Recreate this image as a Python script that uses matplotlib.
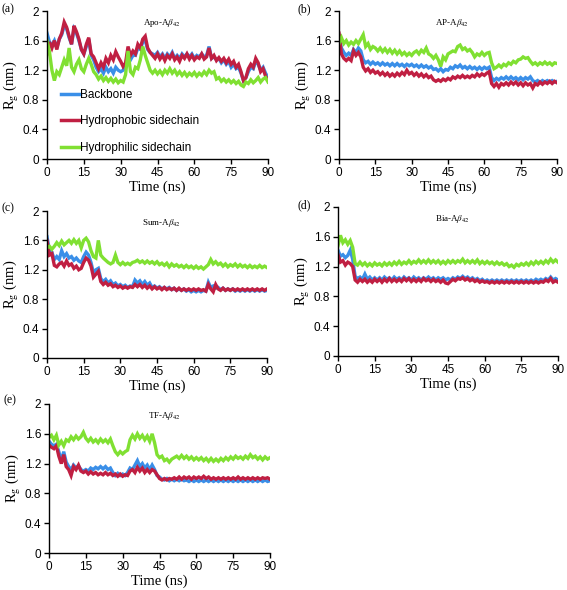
import matplotlib
matplotlib.use("Agg")
import matplotlib.pyplot as plt
import numpy as np

plt.rcParams['mathtext.fontset'] = 'stix'

time_ns = list(range(0, 91))

# Panel (a) Apo-Abeta42
a_backbone = [1.70,1.58,1.54,1.60,1.50,1.62,1.68,1.80,1.76,1.64,1.55,1.76,1.70,1.60,1.48,1.42,1.52,1.62,1.40,1.34,
              1.24,1.18,1.22,1.16,1.24,1.18,1.22,1.16,1.24,1.20,1.18,1.20,1.26,1.46,1.34,1.40,1.40,1.50,1.48,1.58,
              1.60,1.48,1.44,1.42,1.40,1.44,1.38,1.42,1.36,1.42,1.38,1.44,1.36,1.40,1.36,1.42,1.38,1.42,1.38,1.42,
              1.36,1.40,1.38,1.42,1.38,1.40,1.52,1.36,1.38,1.34,1.36,1.30,1.34,1.28,1.32,1.24,1.28,1.22,1.24,1.16,
              1.06,1.10,1.18,1.24,1.22,1.32,1.28,1.20,1.24,1.16,1.10]
a_hydrophobic = [1.42,1.58,1.50,1.60,1.48,1.62,1.70,1.85,1.78,1.66,1.55,1.80,1.72,1.62,1.48,1.42,1.55,1.64,1.42,1.38,
                 1.30,1.22,1.30,1.24,1.36,1.30,1.40,1.34,1.45,1.38,1.32,1.25,1.30,1.52,1.40,1.46,1.42,1.55,1.50,1.62,
                 1.66,1.50,1.44,1.40,1.36,1.42,1.35,1.40,1.33,1.40,1.36,1.42,1.34,1.38,1.32,1.40,1.36,1.42,1.35,1.40,
                 1.34,1.38,1.36,1.42,1.35,1.38,1.50,1.36,1.40,1.33,1.37,1.32,1.36,1.30,1.35,1.28,1.32,1.24,1.28,1.18,
                 1.06,1.10,1.22,1.28,1.24,1.36,1.30,1.18,1.22,1.12,1.06]
a_hydrophilic = [1.60,1.45,1.20,1.06,1.18,1.14,1.24,1.34,1.26,1.50,1.24,1.18,1.28,1.34,1.22,1.18,1.28,1.36,1.28,1.18,
                 1.14,1.08,1.12,1.06,1.10,1.05,1.09,1.04,1.08,1.03,1.06,1.04,1.14,1.46,1.18,1.14,1.24,1.22,1.34,1.52,
                 1.40,1.30,1.20,1.16,1.20,1.15,1.19,1.14,1.20,1.16,1.22,1.16,1.20,1.14,1.18,1.13,1.17,1.12,1.16,1.13,
                 1.17,1.12,1.16,1.13,1.18,1.14,1.20,1.16,1.18,1.08,1.10,1.05,1.08,1.04,1.07,1.03,1.06,1.02,1.05,1.00,
                 0.98,1.04,1.02,1.07,1.03,1.06,1.10,1.04,1.08,1.10,1.04]

# Panel (b) AP-Abeta42
b_backbone = [1.66,1.50,1.44,1.40,1.43,1.40,1.48,1.44,1.50,1.46,1.34,1.30,1.32,1.28,1.31,1.28,1.30,1.27,1.30,1.27,
              1.29,1.26,1.29,1.26,1.29,1.26,1.28,1.25,1.28,1.26,1.28,1.25,1.27,1.24,1.27,1.24,1.26,1.23,1.25,1.21,
              1.22,1.19,1.22,1.18,1.21,1.20,1.24,1.22,1.26,1.24,1.27,1.23,1.25,1.22,1.25,1.22,1.24,1.21,1.24,1.21,
              1.24,1.22,1.24,1.10,1.06,1.09,1.07,1.10,1.08,1.11,1.08,1.11,1.08,1.10,1.07,1.10,1.07,1.10,1.08,1.11,
              1.06,1.04,1.06,1.03,1.06,1.04,1.06,1.04,1.06,1.04,1.05]
b_hydrophobic = [1.70,1.42,1.36,1.33,1.36,1.33,1.46,1.40,1.44,1.38,1.24,1.19,1.22,1.17,1.20,1.16,1.18,1.14,1.17,1.13,
                 1.16,1.12,1.15,1.12,1.16,1.13,1.17,1.14,1.20,1.15,1.17,1.13,1.16,1.12,1.15,1.11,1.14,1.10,1.12,1.07,
                 1.05,1.07,1.05,1.08,1.06,1.09,1.07,1.11,1.09,1.12,1.10,1.13,1.10,1.12,1.10,1.13,1.11,1.15,1.12,1.15,
                 1.13,1.16,1.18,1.02,0.98,1.02,0.97,1.02,1.00,1.03,1.00,1.04,1.01,1.04,1.00,1.03,0.99,1.03,1.00,1.02,
                 0.96,1.02,1.00,1.04,1.01,1.04,1.02,1.05,1.02,1.05,1.03]
b_hydrophilic = [1.56,1.64,1.56,1.60,1.54,1.58,1.55,1.60,1.56,1.62,1.68,1.52,1.56,1.48,1.52,1.50,1.46,1.50,1.45,1.49,
                 1.44,1.48,1.43,1.47,1.42,1.46,1.41,1.44,1.40,1.43,1.40,1.44,1.46,1.42,1.47,1.44,1.50,1.42,1.40,1.36,
                 1.40,1.34,1.25,1.38,1.34,1.42,1.44,1.46,1.45,1.52,1.54,1.48,1.50,1.46,1.48,1.44,1.38,1.42,1.40,1.44,
                 1.40,1.43,1.44,1.30,1.22,1.24,1.27,1.24,1.28,1.26,1.30,1.28,1.32,1.30,1.34,1.35,1.38,1.36,1.37,1.32,
                 1.28,1.30,1.27,1.30,1.28,1.31,1.28,1.30,1.27,1.30,1.29]

# Panel (c) Sum-Abeta42
c_backbone = [1.65,1.46,1.44,1.34,1.38,1.34,1.46,1.38,1.42,1.36,1.38,1.33,1.36,1.32,1.30,1.38,1.44,1.40,1.30,1.16,
              1.20,1.22,1.08,1.04,1.07,1.02,1.05,1.00,1.02,0.98,1.00,0.97,0.99,0.96,0.98,0.97,1.06,1.02,1.05,1.00,
              1.04,0.99,1.02,0.96,0.98,0.95,0.97,0.94,0.96,0.94,0.96,0.93,0.95,0.92,0.94,0.92,0.94,0.91,0.93,0.90,
              0.92,0.90,0.92,0.90,0.92,0.91,1.03,0.96,0.98,0.95,0.96,0.93,0.95,0.92,0.94,0.92,0.94,0.91,0.93,0.91,
              0.93,0.91,0.93,0.91,0.93,0.91,0.93,0.91,0.93,0.91,0.92]
c_hydrophobic = [1.60,1.40,1.42,1.26,1.24,1.28,1.30,1.25,1.32,1.26,1.28,1.22,1.25,1.20,1.22,1.30,1.36,1.33,1.25,1.10,
                 1.14,1.18,1.04,1.00,1.03,0.99,1.01,0.97,0.99,0.96,0.98,0.95,0.97,0.95,0.97,0.96,1.00,0.97,1.00,0.96,
                 0.99,0.95,0.98,0.94,0.97,0.94,0.96,0.93,0.96,0.93,0.95,0.93,0.95,0.92,0.95,0.92,0.94,0.92,0.94,0.92,
                 0.94,0.92,0.94,0.92,0.93,0.91,1.00,0.94,0.90,1.00,0.94,0.92,0.95,0.92,0.94,0.92,0.94,0.92,0.94,0.92,
                 0.94,0.92,0.94,0.92,0.94,0.92,0.94,0.92,0.94,0.92,0.94]
c_hydrophilic = [1.50,1.52,1.48,1.52,1.57,1.53,1.59,1.54,1.57,1.60,1.56,1.61,1.56,1.60,1.50,1.60,1.63,1.58,1.46,1.38,
                 1.36,1.60,1.40,1.36,1.33,1.30,1.28,1.30,1.40,1.30,1.27,1.30,1.27,1.29,1.27,1.30,1.31,1.33,1.30,1.32,
                 1.29,1.32,1.29,1.31,1.28,1.31,1.27,1.29,1.26,1.29,1.24,1.28,1.25,1.27,1.24,1.26,1.23,1.26,1.23,1.25,
                 1.22,1.25,1.22,1.24,1.21,1.24,1.27,1.34,1.28,1.31,1.27,1.29,1.25,1.28,1.24,1.27,1.25,1.28,1.24,1.27,
                 1.24,1.26,1.23,1.26,1.23,1.25,1.23,1.26,1.23,1.25,1.23]

# Panel (d) Bia-Abeta42
d_backbone = [1.42,1.34,1.36,1.32,1.35,1.42,1.30,1.07,1.04,1.06,1.03,1.10,1.03,1.06,1.02,1.05,1.02,1.05,1.02,1.06,
              1.03,1.05,1.02,1.06,1.03,1.05,1.02,1.06,1.03,1.05,1.02,1.06,1.03,1.05,1.02,1.05,1.03,1.06,1.03,1.05,
              1.02,1.05,1.03,1.05,1.02,1.04,1.02,1.05,1.03,1.06,1.04,1.07,1.04,1.06,1.03,1.05,1.02,1.04,1.01,1.03,
              1.00,1.02,1.00,1.02,1.00,1.02,1.00,1.02,1.00,1.02,1.00,1.02,1.00,1.02,1.00,1.02,1.00,1.02,1.00,1.02,
              1.00,1.03,1.01,1.03,1.01,1.04,1.02,1.06,1.02,1.04,1.02]
d_hydrophobic = [1.36,1.26,1.28,1.22,1.26,1.24,1.20,1.02,0.99,1.03,1.00,1.03,0.99,1.02,0.99,1.03,1.00,1.03,0.99,1.03,
                 1.00,1.04,1.00,1.03,1.00,1.03,1.00,1.04,1.01,1.04,1.00,1.03,1.00,1.03,1.00,1.04,1.01,1.03,1.00,1.03,
                 1.00,1.02,0.99,1.02,0.98,0.97,1.00,1.03,1.01,1.04,1.03,1.05,1.02,1.04,1.01,1.03,1.00,1.02,0.99,1.01,
                 0.99,1.00,0.98,1.00,0.98,1.00,0.98,1.00,0.98,1.00,0.98,1.00,0.98,1.00,0.98,1.00,0.98,1.00,0.98,1.00,
                 0.98,1.00,0.98,1.00,0.99,1.02,1.00,1.04,0.99,1.01,0.99]
d_hydrophilic = [1.48,1.62,1.52,1.56,1.50,1.55,1.46,1.24,1.22,1.26,1.22,1.25,1.21,1.24,1.21,1.25,1.22,1.24,1.21,1.25,
                 1.22,1.25,1.22,1.26,1.23,1.27,1.23,1.26,1.24,1.28,1.24,1.27,1.25,1.29,1.25,1.28,1.25,1.29,1.25,1.28,
                 1.25,1.28,1.24,1.27,1.24,1.28,1.25,1.28,1.25,1.28,1.26,1.30,1.25,1.28,1.25,1.28,1.25,1.29,1.24,1.27,
                 1.24,1.27,1.24,1.26,1.23,1.26,1.23,1.25,1.22,1.24,1.20,1.22,1.19,1.23,1.21,1.24,1.22,1.25,1.22,1.26,
                 1.23,1.27,1.24,1.27,1.24,1.28,1.25,1.30,1.26,1.29,1.26]

# Panel (e) TF-Abeta42
e_backbone = [1.50,1.46,1.44,1.46,1.36,1.24,1.36,1.22,1.16,1.12,1.18,1.14,1.17,1.12,1.10,1.12,1.10,1.14,1.12,1.15,
              1.13,1.16,1.13,1.16,1.12,1.14,1.08,1.04,1.07,1.04,1.06,1.04,1.08,1.14,1.12,1.18,1.24,1.16,1.20,1.14,
              1.18,1.12,1.18,1.12,1.04,1.02,0.99,0.98,1.00,0.97,0.99,0.97,0.99,0.97,0.99,0.97,0.98,0.96,0.98,0.96,
              0.98,0.96,0.98,0.96,0.98,0.96,0.98,0.96,0.98,0.96,0.98,0.96,0.98,0.96,0.98,0.96,0.98,0.96,0.98,0.96,
              0.98,0.96,0.98,0.96,0.98,0.96,0.98,0.96,0.98,0.96,0.97]
e_hydrophobic = [1.45,1.42,1.40,1.44,1.30,1.20,1.32,1.16,1.12,1.04,1.16,1.12,1.18,1.10,1.08,1.10,1.06,1.09,1.06,1.08,
                 1.05,1.07,1.05,1.08,1.05,1.07,1.04,1.06,1.03,1.06,1.03,1.05,1.04,1.10,1.12,1.08,1.15,1.10,1.14,1.08,
                 1.12,1.08,1.12,1.10,1.05,1.00,0.98,1.00,0.98,1.00,0.99,1.01,0.99,1.02,0.99,1.02,1.00,1.02,0.99,1.02,
                 1.00,1.02,1.00,1.03,1.00,1.02,0.99,1.01,0.99,1.01,0.99,1.01,0.99,1.01,0.99,1.01,0.99,1.02,0.99,1.01,
                 0.99,1.01,0.99,1.01,0.99,1.01,0.99,1.01,1.00,1.01,0.99]
e_hydrophilic = [1.55,1.58,1.52,1.58,1.45,1.50,1.44,1.52,1.50,1.56,1.52,1.57,1.53,1.56,1.62,1.54,1.50,1.54,1.49,1.52,
                 1.48,1.53,1.49,1.52,1.48,1.53,1.44,1.36,1.32,1.36,1.33,1.36,1.38,1.52,1.58,1.53,1.60,1.54,1.58,1.52,
                 1.57,1.50,1.60,1.48,1.32,1.28,1.30,1.24,1.26,1.22,1.26,1.28,1.30,1.27,1.31,1.27,1.30,1.26,1.29,1.25,
                 1.28,1.25,1.28,1.24,1.27,1.23,1.27,1.23,1.26,1.23,1.27,1.24,1.28,1.25,1.29,1.26,1.30,1.27,1.29,1.26,
                 1.30,1.27,1.32,1.28,1.30,1.26,1.29,1.25,1.29,1.26,1.28]

series_labels = ["Backbone", "Hydrophobic sidechain", "Hydrophilic sidechain"]
series_colors = ["#3a8fe8", "#c01f42", "#80e032"]
panel_letters = ["(a)", "(b)", "(c)", "(d)", "(e)"]
panel_titles = ["Apo-A$\\beta_{42}$", "AP-A$\\beta_{42}$", "Sum-A$\\beta_{42}$",
                "Bia-A$\\beta_{42}$", "TF-A$\\beta_{42}$"]
panel_data = [
    (a_backbone, a_hydrophobic, a_hydrophilic),
    (b_backbone, b_hydrophobic, b_hydrophilic),
    (c_backbone, c_hydrophobic, c_hydrophilic),
    (d_backbone, d_hydrophobic, d_hydrophilic),
    (e_backbone, e_hydrophobic, e_hydrophilic),
]
x_ticks = [0, 15, 30, 45, 60, 75, 90]
y_ticks = [0, 0.4, 0.8, 1.2, 1.6, 2]
y_ticklabels = ["0", "0.4", "0.8", "1.2", "1.6", "2"]

W, H = 567, 590
fig = plt.figure(figsize=(W / 100, H / 100), dpi=100)

# pixel boxes: left, right, top, bottom
boxes = [(47, 268, 11, 159), (339, 557, 11, 159), (47, 267, 211, 358),
         (338, 558, 207, 356), (49, 270, 404, 553)]
letter_pos = [(2, 9), (297, 9), (2, 208), (297, 205), (4, 400)]

serif = "Liberation Serif"
sans = "Liberation Sans"

for i, (box, data) in enumerate(zip(boxes, panel_data)):
    l, r, t, b = box
    ax = fig.add_axes([l / W, (H - b) / H, (r - l) / W, (b - t) / H])
    for vals, lab, col in zip(data, series_labels, series_colors):
        ax.plot(time_ns, vals, color=col, lw=2.4, label=lab, solid_joinstyle='miter')
    ax.set_xlim(0, 90)
    ax.set_ylim(0, 2)
    ax.set_xticks(x_ticks)
    ax.set_yticks(y_ticks)
    ax.set_yticklabels(y_ticklabels)
    for s in ["top", "right"]:
        ax.spines[s].set_visible(False)
    for s in ["left", "bottom"]:
        ax.spines[s].set_linewidth(1.0)
    ax.tick_params(direction="out", length=3.5, width=1.0, labelsize=8.5, pad=2)
    for lbl in ax.get_xticklabels() + ax.get_yticklabels():
        lbl.set_fontfamily(sans)
    ax.set_xlabel("Time (ns)", fontfamily=serif, fontsize=10.5, labelpad=1)
    ax.set_ylabel("R$_{\\mathrm{g}}$ (nm)", fontfamily=serif, fontsize=10.5, labelpad=1)
    ax.text(0.52, 0.96, panel_titles[i], transform=ax.transAxes, ha="center", va="top",
            fontfamily=serif, fontsize=6.5)
    fig.text(letter_pos[i][0] / W, 1 - letter_pos[i][1] / H, panel_letters[i],
             fontfamily=serif, fontsize=8.5, ha="left", va="center")
    if i == 0:
        leg = ax.legend(loc="upper left", bbox_to_anchor=(0.065, 0.475), frameon=False,
                        borderpad=0, borderaxespad=0, handlelength=1.6, handletextpad=0.0,
                        labelspacing=1.25, prop={"family": sans, "size": 8.5})
        for h in leg.get_lines():
            h.set_linewidth(2.5)

fig.savefig("out.png", dpi=100)
